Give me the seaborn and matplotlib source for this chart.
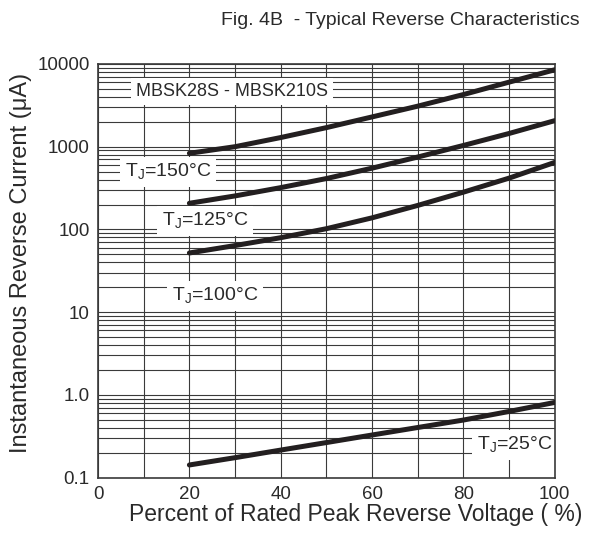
import numpy as np
import pandas as pd
import matplotlib
matplotlib.use("Agg")
import matplotlib.pyplot as plt
import seaborn as sns
from matplotlib.ticker import FixedLocator, FixedFormatter, LogLocator, NullFormatter

# values
voltage_pct = [20, 30, 40, 50, 60, 70, 80, 90, 100]
ir_150 = [832, 1000, 1290, 1700, 2290, 3090, 4270, 6030, 8510]
ir_125 = [207, 254, 320, 412, 550, 750, 1035, 1445, 2065]
ir_100 = [51.9, 63.8, 79.4, 102, 138, 195, 282, 417, 646]
ir_25 = [0.142, 0.174, 0.215, 0.265, 0.327, 0.403, 0.496, 0.63, 0.81]

series = {"150": ir_150, "125": ir_125, "100": ir_100, "25": ir_25}

y_ticks = [0.1, 1, 10, 100, 1000, 10000]
y_tick_labels = ["0.1", "1.0", "10", "100", "1000", "10000"]
x_ticks = [0, 20, 40, 60, 80, 100]

df = pd.concat(
    [pd.DataFrame({"Voltage": voltage_pct, "Current": v, "Tj": k}) for k, v in series.items()],
    ignore_index=True,
)

sns.set_style("white")
plt.rcParams["font.family"] = ["Liberation Sans", "DejaVu Sans"]

fig = plt.figure(figsize=(6.09, 5.33), dpi=100)
ax = fig.add_axes([0.161, 0.104, 0.75, 0.776])

sns.lineplot(
    data=df, x="Voltage", y="Current", units="Tj", estimator=None,
    color="#231f20", linewidth=3.6, legend=False, ax=ax, zorder=3,
)

ax.set_yscale("log")
ax.set_xlim(0, 100)
ax.set_ylim(0.1, 10000)

# grid: every 10 % on x, 1..9 per decade on y
ax.xaxis.set_major_locator(FixedLocator(x_ticks))
ax.xaxis.set_minor_locator(FixedLocator(np.arange(0, 101, 10)))
ax.yaxis.set_major_locator(FixedLocator(y_ticks))
ax.yaxis.set_major_formatter(FixedFormatter(y_tick_labels))
ax.yaxis.set_minor_locator(LogLocator(base=10, subs=np.arange(2, 10)))
ax.yaxis.set_minor_formatter(NullFormatter())
ax.grid(True, which="both", color="#3a3a3a", linewidth=0.8)
ax.set_axisbelow(True)

ax.tick_params(which="both", length=0, labelsize=13.5, colors="#2a2a2a", pad=6)
for s in ax.spines.values():
    s.set_color("#3a3a3a")
    s.set_linewidth(1.2)

ax.set_xlabel("Percent of Rated Peak Reverse Voltage ( %)", fontsize=16.5, color="#2a2a2a")
ax.xaxis.set_label_coords(0.565, -0.062)
ax.set_ylabel("Instantaneous Reverse Current (\u03bcA)", fontsize=17, color="#2a2a2a")
ax.yaxis.set_label_coords(-0.145, 0.52)
fig.text(0.658, 0.962, "Fig. 4B  - Typical Reverse Characteristics", fontsize=14,
         ha="center", va="center", color="#2a2a2a")

box = dict(facecolor="white", edgecolor="none", pad=3.5)
ax.text(29.3, 4600, "MBSK28S - MBSK210S", fontsize=13, ha="center", va="center",
        color="#2a2a2a", bbox=box, zorder=2)
ax.text(15.3, 494, "T$_\\mathregular{J}$=150\u00b0C", fontsize=14, ha="center", va="center",
        color="#2a2a2a", bbox=box, zorder=2)
ax.text(23.4, 126, "T$_\\mathregular{J}$=125\u00b0C", fontsize=14, ha="center", va="center",
        color="#2a2a2a", bbox=box, zorder=2)
ax.text(25.6, 15.7, "T$_\\mathregular{J}$=100\u00b0C", fontsize=14, ha="center", va="center",
        color="#2a2a2a", bbox=box, zorder=2)
ax.text(91.2, 0.247, "T$_\\mathregular{J}$=25\u00b0C", fontsize=14, ha="center", va="center",
        color="#2a2a2a", bbox=box, zorder=2)

fig.savefig("out.png", dpi=100)
